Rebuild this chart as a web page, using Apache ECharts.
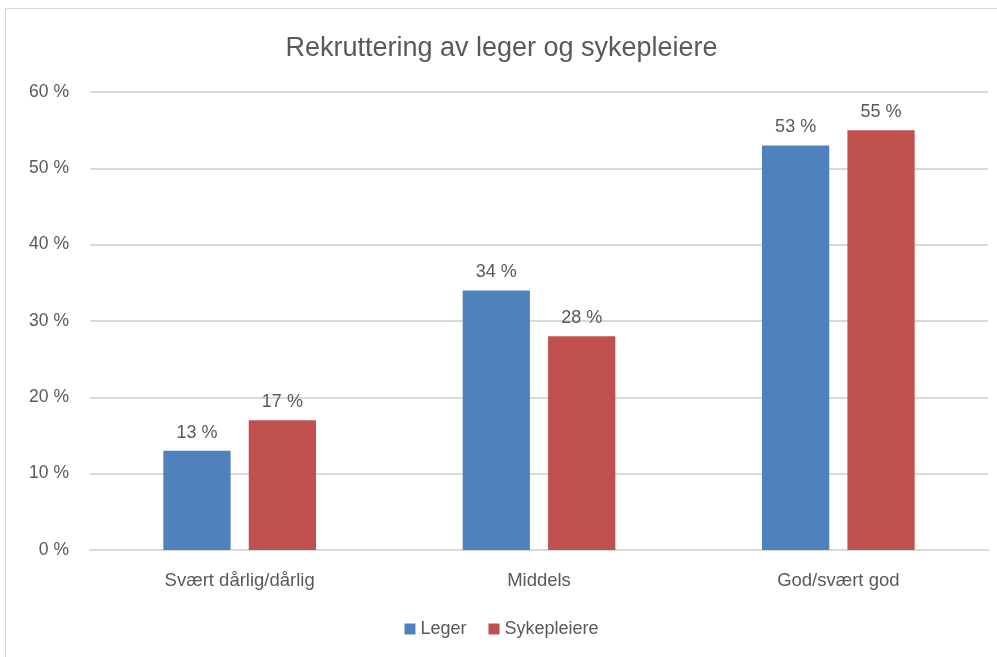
<!DOCTYPE html>
<html>
<head>
<meta charset="utf-8">
<script src="https://cdn.jsdelivr.net/npm/echarts@6/dist/echarts.min.js"></script>
<style>
  html, body { margin: 0; padding: 0; background: #fff; }
  #chart { position: absolute; left: 5px; top: 8px; width: 992px; height: 649px;
           border: 1px solid #d9d9d9; border-right: none; border-bottom: none; box-sizing: border-box; }
</style>
</head>
<body>
<div id="chart"></div>
<script>
// data
var categories = ['Svært dårlig/dårlig', 'Middels', 'God/svært god'];
var leger = [13, 34, 53];
var sykepleiere = [17, 28, 55];
var yTicks = [0, 10, 20, 30, 40, 50, 60];

var font = '"Liberation Sans", sans-serif';
var textColor = '#595959';

var myChart = echarts.init(document.getElementById('chart'));

var labelStyle = {
    show: true,
    position: 'top',
    distance: 9,
    fontFamily: font,
    fontSize: 18,
    color: textColor,
    formatter: function (p) { return p.value + ' %'; }
};

var option = {
    animation: false,
    title: {
        text: 'Rekruttering av leger og sykepleiere',
        left: 'center',
        top: 21,
        textStyle: { fontFamily: font, fontSize: 27, fontWeight: 'normal', color: textColor }
    },
    legend: {
        bottom: 14,
        left: 'center',
        itemWidth: 11,
        itemHeight: 11,
        itemGap: 22,
        icon: 'rect',
        textStyle: { fontFamily: font, fontSize: 18, color: textColor }
    },
    grid: { left: 84, right: 9, top: 83, bottom: 107 },
    xAxis: {
        type: 'category',
        data: categories,
        axisLine: { lineStyle: { color: '#d9d9d9', width: 2 } },
        axisTick: { show: false },
        axisLabel: { margin: 21, fontFamily: font, fontSize: 18.5, color: textColor }
    },
    yAxis: {
        type: 'value',
        min: yTicks[0],
        max: yTicks[yTicks.length - 1],
        interval: 10,
        axisLine: { show: false },
        axisTick: { show: false },
        splitLine: { lineStyle: { color: '#d9d9d9', width: 2 } },
        axisLabel: {
            margin: 21, fontFamily: font, fontSize: 17.5, color: textColor,
            formatter: function (v) { return v + ' %'; }
        }
    },
    series: [{
        name: 'Leger',
        type: 'bar',
        data: leger,
        barGap: '27%',
        barCategoryGap: '49%',
        itemStyle: { color: '#4f81bd' },
        label: labelStyle
    }, {
        name: 'Sykepleiere',
        type: 'bar',
        data: sykepleiere,
        itemStyle: { color: '#c0504d' },
        label: labelStyle
    }]
};
myChart.setOption(option);
</script>
</body>
</html>
